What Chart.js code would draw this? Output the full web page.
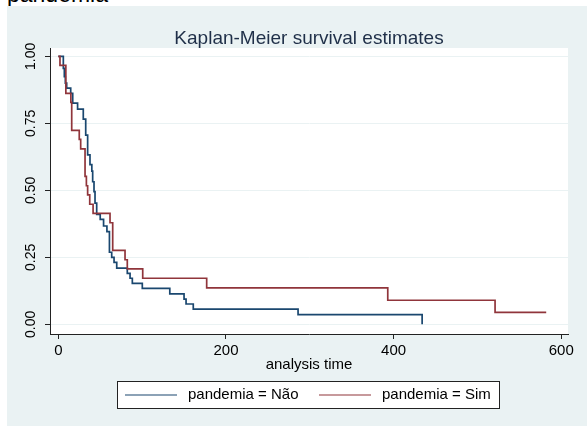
<!DOCTYPE html>
<html>
<head>
<meta charset="utf-8">
<script src="https://cdn.jsdelivr.net/npm/chart.js"></script>
<style>
  html, body { margin: 0; padding: 0; background: #fff; }
  body { width: 587px; height: 426px; position: relative; overflow: hidden; }
  #cap { position: absolute; left: 7px; top: -17px; font: 23px "Liberation Sans", Arial, sans-serif; line-height: 23px; color: #000; }
  #box { position: absolute; left: 7px; top: 6px; width: 580px; height: 420px; background: #EAF2F3; }
</style>
</head>
<body>
<div id="cap">pandemia</div>
<div id="box"><canvas id="km" width="580" height="420"></canvas></div>
<script>
// Kaplan-Meier steps (time, survival after the step)
const naoTime = [0, 6, 7.2, 8.4, 10, 14.8, 17.2, 23, 29.8, 32.7, 35, 37.8, 40, 41, 42.6, 43.8, 45.8, 50, 54, 58, 61, 63.7, 66.5, 69.7, 82.3, 85.6, 88.3, 100.2, 133, 150, 152.4, 161, 286, 434];
const naoSurv = [1, 0.955, 0.924, 0.9, 0.881, 0.862, 0.825, 0.803, 0.766, 0.706, 0.632, 0.596, 0.572, 0.532, 0.495, 0.452, 0.41, 0.392, 0.367, 0.346, 0.269, 0.25, 0.231, 0.21, 0.19, 0.172, 0.153, 0.134, 0.114, 0.094, 0.076, 0.057, 0.036, 0];

const simTime = [0, 2, 9, 15, 16, 25, 26.7, 31.9, 33.5, 35, 37.5, 41.5, 61.7, 64.9, 79.6, 82.3, 100.7, 177, 393, 521, 582];
const simSurv = [1, 0.966, 0.862, 0.828, 0.724, 0.69, 0.655, 0.552, 0.517, 0.483, 0.448, 0.414, 0.379, 0.276, 0.241, 0.207, 0.172, 0.136, 0.09, 0.045, 0.045];

const seriesLabels = ["pandemia = Não", "pandemia = Sim"];
const xTicks = [0, 200, 400, 600];
const yTicks = [0, 0.25, 0.5, 0.75, 1];

const FONT = '"Liberation Sans", Arial, sans-serif';
const pts = (t, s) => t.map((v, i) => ({ x: v, y: s[i] }));

const plotBg = {
  id: 'plotBg',
  beforeDraw(chart) {
    const { ctx, chartArea: a } = chart;
    ctx.save();
    ctx.fillStyle = '#fff';
    ctx.fillRect(a.left, a.top, a.right - a.left, a.bottom - a.top);
    ctx.restore();
  }
};

// Stata-style boxed legend under the axis title
const boxLegend = {
  id: 'boxLegend',
  afterDraw(chart) {
    const ctx = chart.ctx;
    const ds = chart.data.datasets;
    ctx.save();
    ctx.fillStyle = '#fff';
    ctx.fillRect(110.5, 375.5, 382, 27);
    ctx.strokeStyle = '#222';
    ctx.lineWidth = 1;
    ctx.strokeRect(110.5, 375.5, 382, 27);
    ctx.font = '15px ' + FONT;
    ctx.textBaseline = 'middle';
    ctx.fillStyle = '#000';
    const slots = [118, 312];
    ds.forEach((d, i) => {
      const x = slots[i];
      ctx.strokeStyle = d.borderColor;
      ctx.lineWidth = 1.2;
      ctx.beginPath();
      ctx.moveTo(x, 389);
      ctx.lineTo(x + 52, 389);
      ctx.stroke();
      ctx.fillText(d.label, x + 63, 389);
    });
    ctx.restore();
  }
};

new Chart(document.getElementById('km'), {
  type: 'line',
  data: {
    datasets: [
      { label: seriesLabels[0], data: pts(naoTime, naoSurv), borderColor: '#1A476F', borderWidth: 1.7, stepped: 'before', pointRadius: 0, order: 1 },
      { label: seriesLabels[1], data: pts(simTime, simSurv), borderColor: '#90353B', borderWidth: 1.7, stepped: 'before', pointRadius: 0, order: 0 }
    ]
  },
  options: {
    responsive: false,
    animation: false,
    layout: { padding: { left: 0, right: 19, top: 0, bottom: 52 } },
    plugins: {
      legend: { display: false },
      tooltip: { enabled: false },
      title: {
        display: true,
        fullSize: false,
        text: 'Kaplan-Meier survival estimates',
        color: '#1f2f48',
        font: { family: FONT, size: 19, weight: 'normal', lineHeight: 1 },
        padding: { top: 23, bottom: 0 }
      }
    },
    scales: {
      x: {
        type: 'linear',
        min: -9.9,
        max: 608,
        afterBuildTicks: s => { s.ticks = xTicks.map(v => ({ value: v })); },
        afterFit: s => { s.height = 40; },
        grid: { drawOnChartArea: false, tickLength: 5, tickColor: '#222' },
        border: { color: '#222', width: 1 },
        ticks: { color: '#000', font: { family: FONT, size: 15 }, padding: 3, maxRotation: 0 },
        title: { display: true, text: 'analysis time', color: '#000', font: { family: FONT, size: 15 }, padding: 0 }
      },
      y: {
        type: 'linear',
        min: -0.036,
        max: 1.031,
        afterBuildTicks: s => { s.ticks = yTicks.map(v => ({ value: v })); },
        afterFit: s => { s.width = 43; },
        grid: { color: '#EAF2F3', lineWidth: 1, tickLength: 5, tickColor: '#222' },
        border: { color: '#222', width: 1 },
        ticks: {
          color: '#000',
          font: { family: FONT, size: 14 },
          padding: 0,
          minRotation: 90,
          maxRotation: 90,
          crossAlign: 'center',
          callback: v => v.toFixed(2)
        }
      }
    }
  },
  plugins: [plotBg, boxLegend]
});
</script>
</body>
</html>
